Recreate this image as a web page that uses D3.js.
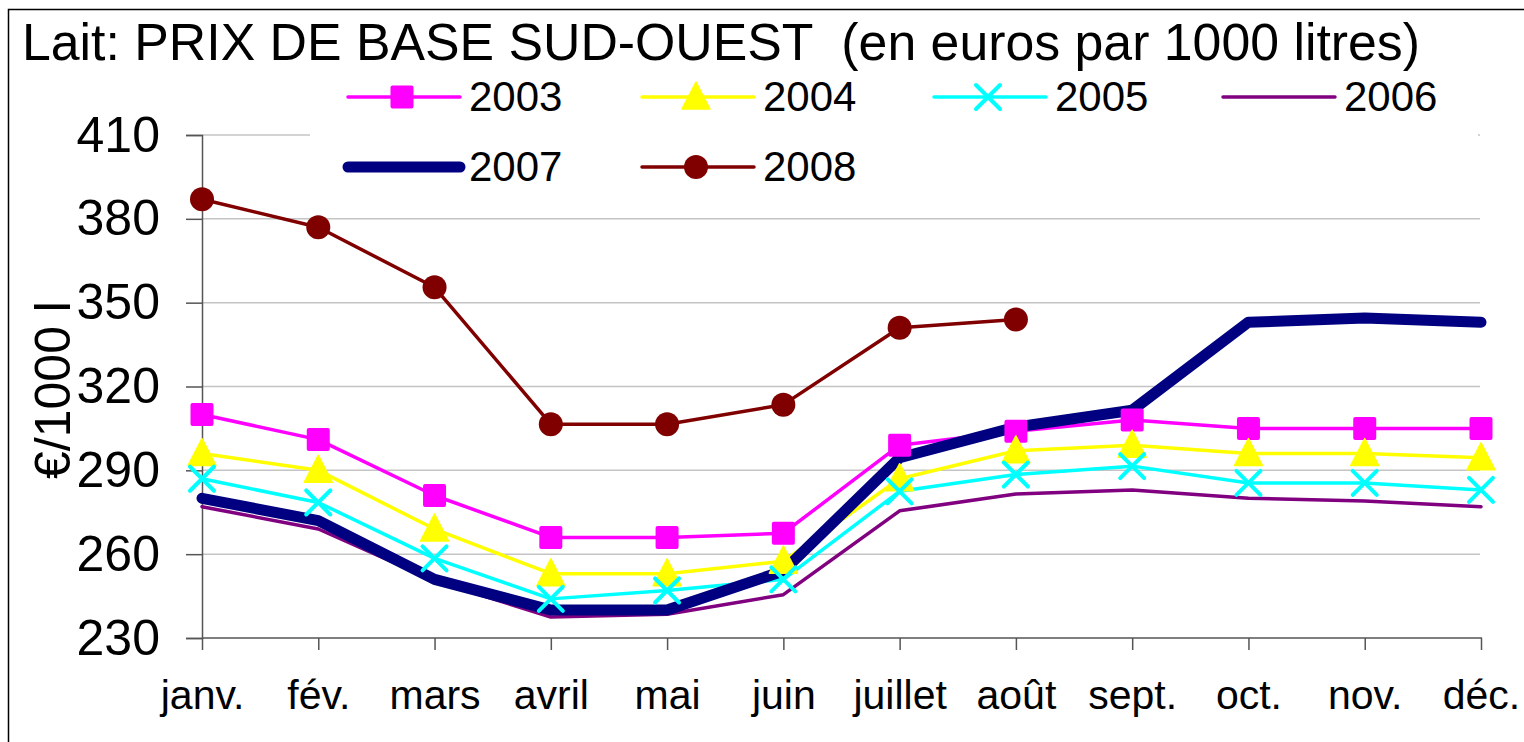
<!DOCTYPE html>
<html>
<head>
<meta charset="utf-8">
<script src="https://cdn.jsdelivr.net/npm/d3@7"></script>
<style>
  html, body { margin: 0; padding: 0; background: #fff; }
  svg { display: block; font-family: "Liberation Sans", Arial, sans-serif; }
</style>
</head>
<body>
<svg id="chart" width="1524" height="742"></svg>
<script>
// données
const months = ["janv.", "fév.", "mars", "avril", "mai", "juin", "juillet", "août", "sept.", "oct.", "nov.", "déc."];
const years = ["2003", "2004", "2005", "2006", "2007", "2008"];
const prix2003 = [310, 301, 281, 266, 266, 267.5, 299, 304, 308, 305, 305, 305];
const prix2004 = [296, 290, 269, 253, 253, 257.5, 287, 297, 299, 296, 296, 294.5];
const prix2005 = [287, 278.5, 258.5, 244, 247, 251, 282.5, 288.5, 291.5, 285.5, 285.5, 283];
const prix2006 = [277, 269, 250.5, 237.5, 238.5, 245.5, 275.5, 281.5, 283, 280, 279, 277];
const prix2007 = [280, 272, 251, 240, 240, 254, 294.5, 305.5, 311.5, 343, 344.5, 343];
const prix2008 = [387, 377, 355.5, 306.5, 306.5, 313.5, 341, 344, null, null, null, null];
const yTicks = [230, 260, 290, 320, 350, 380, 410];

const seriesValues = {
    "2003": prix2003, "2004": prix2004, "2005": prix2005,
    "2006": prix2006, "2007": prix2007, "2008": prix2008
};

// styles des séries
const styles = {
    "2003": { color: "#ff00ff", width: 3.5, marker: "square" },
    "2004": { color: "#ffff00", width: 3.5, marker: "triangle" },
    "2005": { color: "#00ffff", width: 3.5, marker: "cross" },
    "2006": { color: "#800080", width: 3.5, marker: null },
    "2007": { color: "#000080", width: 11, marker: null },
    "2008": { color: "#800000", width: 3.5, marker: "circle" }
};

const svg = d3.select("#chart");

// cadre
svg.append("rect")
    .attr("x", 8.5).attr("y", 9.5)
    .attr("width", 1540).attr("height", 760)
    .attr("fill", "#fff").attr("stroke", "#000").attr("stroke-width", 1.5);

const x = d3.scalePoint().domain(months).range([202, 1481]);
const y = d3.scaleLinear().domain([230, 410]).range([638, 135]);

// grille
svg.append("g")
    .selectAll("line")
    .data(yTicks.filter(d => d !== 230))
    .join("line")
    .attr("x1", 202).attr("x2", 1480)
    .attr("y1", d => y(d)).attr("y2", d => y(d))
    .attr("stroke", "#c4c4c4").attr("stroke-width", 1.5);

// axe Y
const yAxis = svg.append("g")
    .attr("transform", "translate(202,0)")
    .call(d3.axisLeft(y).tickValues(yTicks).tickSize(16).tickPadding(26).tickFormat(d3.format("d")));
yAxis.select(".domain").attr("stroke", "#555").attr("stroke-width", 1.5);
yAxis.selectAll(".tick line").attr("stroke", "#555").attr("stroke-width", 1.5);
yAxis.selectAll(".tick text")
    .attr("font-size", 50).attr("fill", "#000")
    .attr("font-family", "Liberation Sans, Arial, sans-serif");

// axe X
const xAxis = svg.append("g")
    .attr("transform", "translate(0,638)")
    .call(d3.axisBottom(x).tickSize(12).tickSizeOuter(0).tickPadding(30));
xAxis.select(".domain").attr("stroke", "#555").attr("stroke-width", 1.5)
    .attr("d", "M202,0H1482");
xAxis.selectAll(".tick line").attr("stroke", "#555").attr("stroke-width", 1.5);
xAxis.selectAll(".tick text")
    .attr("font-size", 41).attr("fill", "#000")
    .attr("font-family", "Liberation Sans, Arial, sans-serif");

// titre de l'axe Y
svg.append("text")
    .attr("transform", "translate(70,390) rotate(-90)")
    .attr("text-anchor", "middle")
    .attr("font-size", 50)
    .text("€/1000 l");

// titre
svg.append("text")
    .attr("x", 22).attr("y", 60)
    .attr("font-size", 52)
    .attr("textLength", 1398)
    .attr("lengthAdjust", "spacingAndGlyphs")
    .style("white-space", "pre")
    .text("Lait: PRIX DE BASE SUD-OUEST  (en euros par 1000 litres)");

// marqueurs
function drawMarker(sel, type, color) {
    if (type === "square") {
        sel.append("rect").attr("x", -11.5).attr("y", -11.5).attr("width", 23).attr("height", 23)
            .attr("rx", 2).attr("fill", color);
    } else if (type === "triangle") {
        sel.append("path").attr("d", "M0,-15 L14,12 L-14,12 Z")
            .attr("fill", color).attr("stroke", color).attr("stroke-width", 1.5).attr("stroke-linejoin", "round");
    } else if (type === "cross") {
        sel.append("path").attr("d", "M-12,-12 L12,12 M-12,12 L12,-12")
            .attr("fill", "none").attr("stroke", color).attr("stroke-width", 4).attr("stroke-linecap", "round");
    } else if (type === "circle") {
        sel.append("circle").attr("r", 12).attr("fill", color);
    }
}

const line = d3.line()
    .defined(d => d.v !== null)
    .x(d => x(d.m))
    .y(d => y(d.v));

const plot = svg.append("g");
years.forEach(yr => {
    const pts = months.map((m, i) => ({ m, v: seriesValues[yr][i] }));
    plot.append("path")
        .datum(pts)
        .attr("d", line)
        .attr("fill", "none")
        .attr("stroke", styles[yr].color)
        .attr("stroke-width", styles[yr].width)
        .attr("stroke-linejoin", "round")
        .attr("stroke-linecap", "round");
});
years.forEach(yr => {
    if (!styles[yr].marker) return;
    const pts = months.map((m, i) => ({ m, v: seriesValues[yr][i] })).filter(d => d.v !== null);
    plot.append("g").selectAll("g")
        .data(pts)
        .join("g")
        .attr("transform", d => `translate(${x(d.m)},${y(d.v)})`)
        .each(function () { drawMarker(d3.select(this), styles[yr].marker, styles[yr].color); });
});

// légende
const legend = svg.append("g");
legend.append("rect")
    .attr("x", 310).attr("y", 72).attr("width", 1168).attr("height", 122)
    .attr("fill", "#fff");
const legendX = [348, 642, 934, 1223];
const legendY = [97, 167];
years.forEach((yr, i) => {
    const lx = legendX[i % 4], ly = legendY[Math.floor(i / 4)];
    const g = legend.append("g").attr("transform", `translate(${lx},${ly})`);
    g.append("line")
        .attr("x1", 0).attr("x2", 112)
        .attr("stroke", styles[yr].color)
        .attr("stroke-width", styles[yr].width)
        .attr("stroke-linecap", "round");
    if (styles[yr].marker) {
        const m = g.append("g").attr("transform", "translate(54,0)");
        drawMarker(m, styles[yr].marker, styles[yr].color);
    }
    g.append("text")
        .attr("x", 121).attr("y", 14)
        .attr("font-size", 42)
        .text(yr);
});
</script>
</body>
</html>
